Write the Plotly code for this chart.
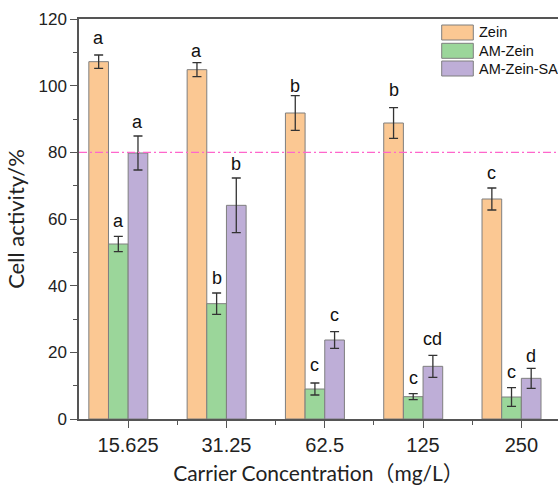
import plotly.graph_objects as go

# Carrier concentrations (mg/L) on the category axis
concentrations = ["15.625", "31.25", "62.5", "125", "250"]
series_names = ["Zein", "AM-Zein", "AM-Zein-SA"]

# Cell activity (%) means and standard deviations
zein = [107.2, 104.8, 91.8, 88.8, 66.0]
zein_err = [2.0, 2.1, 5.2, 4.6, 3.3]
am_zein = [52.5, 34.6, 9.0, 6.7, 6.6]
am_zein_err = [2.3, 3.2, 1.8, 0.9, 2.8]
am_zein_sa = [79.8, 64.1, 23.7, 15.8, 12.2]
am_zein_sa_err = [5.1, 8.2, 2.5, 3.3, 3.0]

# Significance letters
zein_letters = ["a", "a", "b", "b", "c"]
am_zein_letters = ["a", "b", "c", "c", "c"]
am_zein_sa_letters = ["a", "b", "c", "cd", "d"]

reference_level = 80

# ---- styling ----
colors = ["#FBC893", "#9BD69A", "#BEAED7"]
bar_outline = "#7F7F7F"
bar_width = 0.2
offsets = [-0.4, -0.2, 0.0]
letter_gap_px = [
    [10, 5, 3, 11, 7.6],
    [8.4, 8.3, 10.7, 9, 8.3],
    [6.7, 6.6, 10, 9, 5.4],
]

W, H = 558, 485
ML, MR, MT, MB = 79, 0, 19, 66
plot_w = W - ML - MR
plot_h = H - MT - MB
px_per_cat = 98.3
x_lo = -0.5
x_hi = x_lo + plot_w / px_per_cat

values = [zein, am_zein, am_zein_sa]
errors = [zein_err, am_zein_err, am_zein_sa_err]
letters = [zein_letters, am_zein_letters, am_zein_sa_letters]
xs = list(range(len(concentrations)))

fig = go.Figure()
for k in range(3):
    fig.add_trace(go.Bar(
        name=series_names[k],
        x=xs,
        y=values[k],
        width=bar_width,
        offset=offsets[k],
        marker=dict(color=colors[k], line=dict(color=bar_outline, width=1)),
        error_y=dict(type="data", array=errors[k], visible=True,
                     color="#333333", thickness=1.3, width=4.5),
        showlegend=False,
    ))

annotations = []
for k in range(3):
    for i, x in enumerate(xs):
        annotations.append(dict(
            x=x + offsets[k] + bar_width / 2,
            y=values[k][i] + errors[k][i],
            xref="x", yref="y",
            text=letters[k][i],
            showarrow=False,
            yanchor="bottom",
            yshift=letter_gap_px[k][i] - 5,
            font=dict(family="Liberation Sans, Arial", size=18, color="#111111"),
        ))

# Legend drawn as swatches + labels in the upper right
shapes = []
def px_to_paper_x(p):
    return (p - ML) / plot_w

def px_to_paper_y(p):
    return (H - MB - p) / plot_h

sw_x0, sw_x1 = 441.7, 473.3
row_top = [25.0, 43.3, 61.0]
sw_h = 15.0
for k in range(3):
    shapes.append(dict(
        type="rect", xref="paper", yref="paper",
        x0=px_to_paper_x(sw_x0), x1=px_to_paper_x(sw_x1),
        y0=px_to_paper_y(row_top[k] + sw_h), y1=px_to_paper_y(row_top[k]),
        fillcolor=colors[k], line=dict(color=bar_outline, width=1),
    ))
    annotations.append(dict(
        x=px_to_paper_x(477), y=px_to_paper_y(row_top[k] + sw_h / 2),
        xref="paper", yref="paper", text=series_names[k], showarrow=False,
        xanchor="left", yanchor="middle",
        font=dict(family="Liberation Sans, Arial", size=14.5, color="#111111"),
    ))

# 80% reference line
shapes.append(dict(
    type="line", xref="paper", yref="y", x0=0, x1=1,
    y0=reference_level, y1=reference_level,
    line=dict(color="#FF66CC", width=1.2, dash="8px,3px,2px,3px"),
))

axis_color = "#555555"
fig.update_layout(
    width=W, height=H,
    margin=dict(l=ML, r=MR, t=MT, b=MB, pad=0),
    paper_bgcolor="white", plot_bgcolor="white",
    barmode="overlay",
    shapes=shapes,
    annotations=annotations,
    xaxis=dict(
        range=[x_lo, x_hi],
        tickmode="array", tickvals=xs, ticktext=concentrations,
        ticks="outside", ticklen=7, tickwidth=1.2, tickcolor=axis_color,
        minor=dict(tickmode="array", tickvals=[0.5, 1.5, 2.5, 3.5],
                   ticks="outside", ticklen=4, tickwidth=1.2, tickcolor=axis_color),
        showline=True, linecolor=axis_color, linewidth=1.5, mirror=True,
        showgrid=False, zeroline=False,
        tickfont=dict(family="Liberation Sans, Arial", size=20, color="#222222"),
        title=dict(text="Carrier Concentration（mg/L）",
                   font=dict(family="Lato, 'Noto Sans CJK SC'", size=21, color="#222222"),
                   standoff=15),
    ),
    yaxis=dict(
        range=[0, 120], dtick=20, tick0=0,
        ticks="outside", ticklen=7, tickwidth=1.2, tickcolor=axis_color,
        minor=dict(dtick=10, ticks="outside", ticklen=4, tickwidth=1.2, tickcolor=axis_color),
        showline=True, linecolor=axis_color, linewidth=1.5, mirror=False,
        showgrid=False, zeroline=False,
        tickfont=dict(family="Liberation Sans, Arial", size=17, color="#222222"),
        title=dict(text="Cell activity/%",
                   font=dict(family="Lato, 'Noto Sans CJK SC'", size=22, color="#222222"),
                   standoff=8),
    ),
)

fig.write_html("out.html")
